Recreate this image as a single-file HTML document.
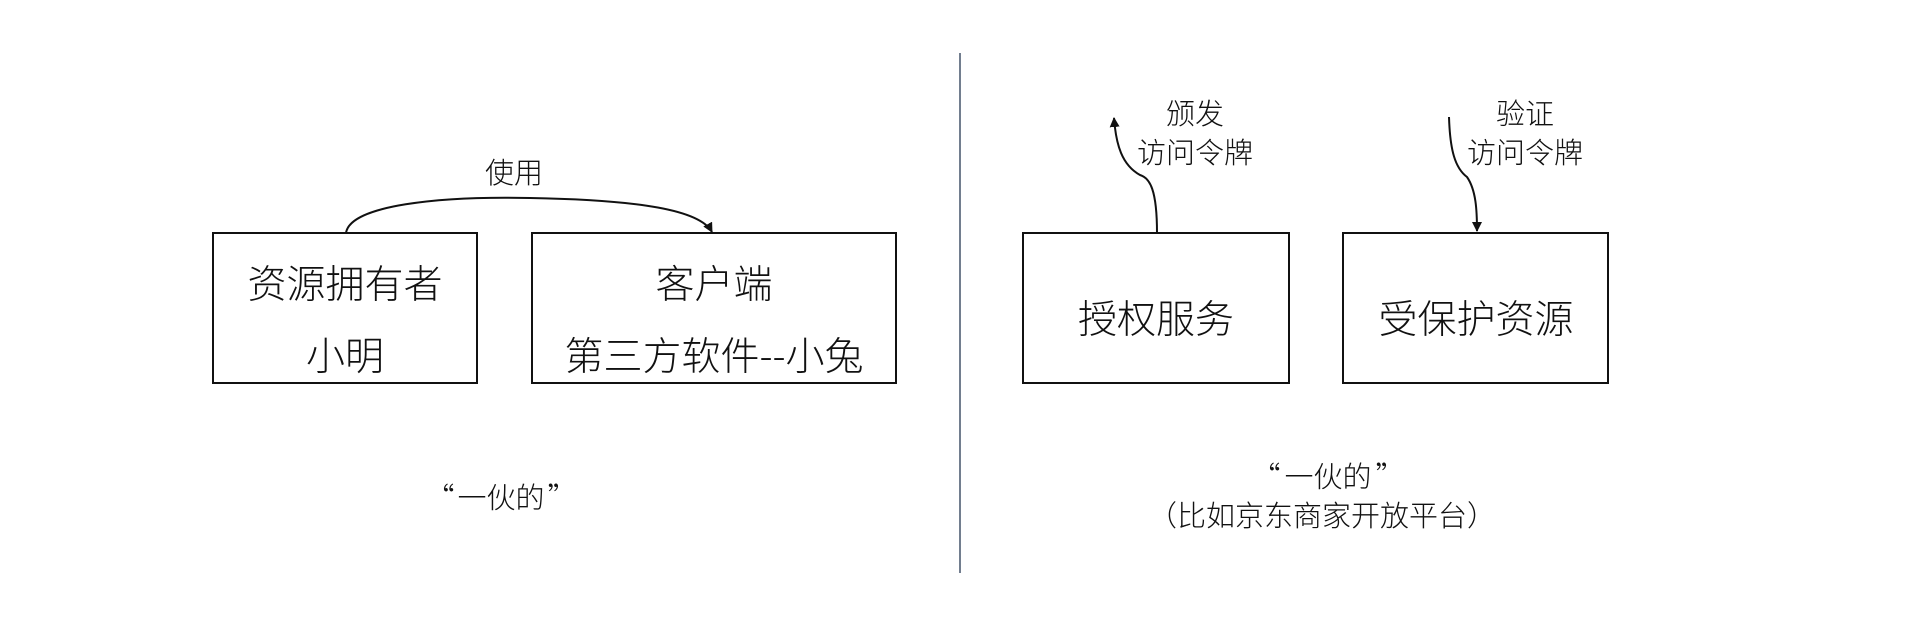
<!DOCTYPE html>
<html><head><meta charset="utf-8"><style>
html,body{margin:0;padding:0;background:#fff;}
svg text{font-family:"Noto Sans CJK SC","Liberation Sans",sans-serif;font-weight:300;fill:#111;}
</style></head><body>
<svg width="1920" height="612" viewBox="0 0 1920 612" xmlns="http://www.w3.org/2000/svg">
<defs><marker id="a" markerWidth="10" markerHeight="10" refX="9" refY="5" orient="auto" markerUnits="userSpaceOnUse"><path d="M0,0 L10,5 L0,10 z" fill="#111"/></marker></defs>
<line x1="960" y1="53" x2="960" y2="573" stroke="#44546a" stroke-width="1.5"/>
<g fill="none" stroke="#111" stroke-width="2">
<rect x="213" y="233" width="264" height="150"/>
<rect x="532" y="233" width="364" height="150"/>
<rect x="1023" y="233" width="266" height="150"/>
<rect x="1343" y="233" width="265" height="150"/>
<path d="M346,233 C350,205 440,196 530,198 C640,200 700,210 712,232" marker-end="url(#a)"/>
<path d="M1157,233 C1157,190 1150,178 1140,175 C1122,165 1116,145 1114,118" marker-end="url(#a)"/>
<path d="M1449,117 C1450,150 1455,168 1467,177 C1476,190 1477,210 1477,231" marker-end="url(#a)"/>
</g>
<g font-size="39" text-anchor="middle" dominant-baseline="central">
<text x="345" y="282">资源拥有者</text>
<text x="345" y="354">小明</text>
<text x="714" y="282">客户端</text>
<text x="714" y="354">第三方软件--小兔</text>
<text x="1156" y="317">授权服务</text>
<text x="1476" y="317">受保护资源</text>
</g>
<g font-size="29" text-anchor="middle" dominant-baseline="central">
<text x="514" y="171">使用</text>
<text x="1195" y="112">颁发</text>
<text x="1195" y="151">访问令牌</text>
<text x="1525" y="112">验证</text>
<text x="1525" y="151">访问令牌</text>
<text x="440" y="496">“</text>
<text x="501" y="496">一伙的</text>
<text x="562" y="496">”</text>
<text x="1266" y="475">“</text>
<text x="1328" y="475">一伙的</text>
<text x="1390" y="475">”</text>
<text x="1322" y="514">（比如京东商家开放平台）</text>
</g>
</svg>
</body></html>
